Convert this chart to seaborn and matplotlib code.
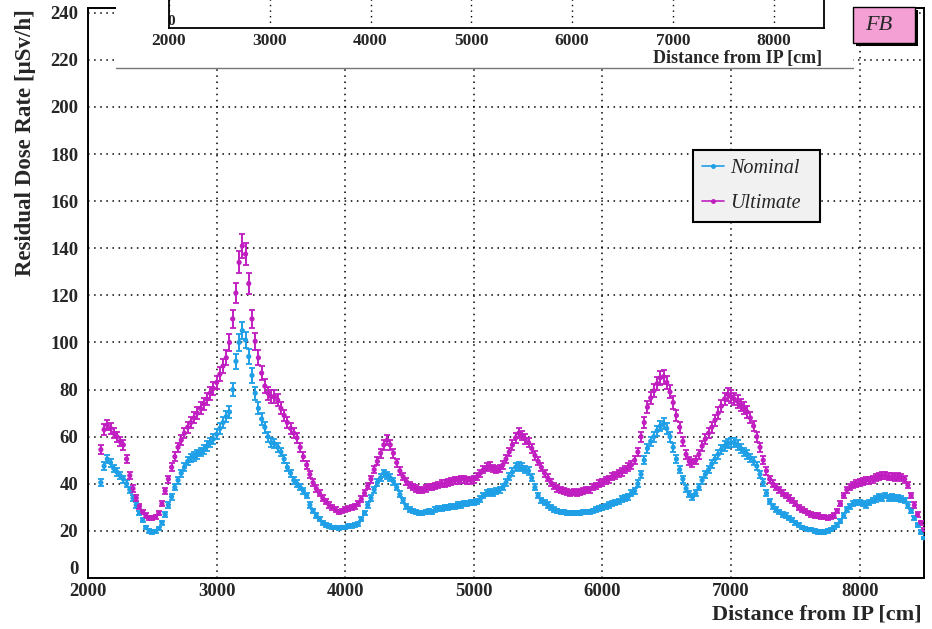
import numpy as np
import pandas as pd
import seaborn as sns
import matplotlib.pyplot as plt
from matplotlib.lines import Line2D
from matplotlib.patches import Rectangle
from matplotlib.ticker import MultipleLocator

# --- data, 25 cm bins from 2100 to 8500 cm ---
x_start, x_stop, x_step = 2100, 8500, 25

nominal = [
    40.5, 47.5, 50.5, 49.0, 46.5, 45.0, 43.5, 42.0, 40.0, 37.5, 34.0, 31.0,
    27.5, 24.5, 21.5, 20.0, 19.5, 19.8, 21.0, 23.5, 27.0, 31.0, 34.5, 38.5,
    41.5, 44.5, 47.0, 49.5, 51.0, 51.5, 52.5, 53.5, 54.5, 56.0, 57.5, 59.0,
    61.0, 63.5, 66.0, 68.5, 70.5, 80.0, 92.0, 100.0, 105.0, 101.0, 94.0, 86.0,
    78.5, 72.0, 67.5, 64.0, 60.0, 57.5, 57.0, 55.5, 53.5, 50.5, 47.0, 44.5,
    41.5, 40.0, 38.5, 37.0, 35.0, 31.0, 28.5, 26.5, 25.0, 23.5, 22.5, 22.0,
    21.5, 21.5, 21.0, 21.5, 21.5, 22.0, 22.0, 22.5, 23.0, 25.0, 27.5, 31.0,
    34.0, 37.5, 40.5, 42.5, 44.5, 43.5, 42.5, 41.0, 38.5, 35.5, 33.0, 30.5,
    29.0, 28.5, 28.0, 27.5, 27.5, 28.0, 28.5, 28.0, 29.0, 29.5, 29.5, 30.0,
    30.0, 30.5, 30.5, 31.0, 31.0, 31.5, 31.5, 32.0, 32.0, 32.5, 33.5, 35.0,
    36.0, 36.5, 36.0, 37.0, 37.5, 38.5, 40.5, 43.0, 45.0, 47.0, 47.5, 47.0,
    46.0, 45.5, 42.5, 38.5, 35.0, 33.0, 32.0, 31.0, 30.0, 29.0, 28.5, 28.0,
    28.0, 27.5, 27.5, 27.5, 27.5, 27.5, 28.0, 28.0, 28.0, 28.5, 29.0, 29.5,
    30.0, 30.5, 31.0, 31.5, 32.0, 32.5, 33.5, 34.0, 34.5, 36.0, 37.0, 40.0,
    44.0, 50.0, 55.0, 58.0, 60.0, 62.5, 64.5, 65.5, 63.5, 60.0, 55.5, 50.5,
    46.0, 42.0, 38.0, 35.5, 34.5, 36.0, 38.5, 41.5, 44.0, 46.0, 48.5, 50.5,
    52.5, 54.5, 56.0, 57.0, 57.5, 57.5, 56.5, 55.0, 53.5, 52.5, 51.0, 49.5,
    47.5, 44.0, 40.5, 36.0, 32.5, 30.5, 29.0, 28.0, 27.0, 26.5, 25.5, 24.5,
    23.5, 22.5, 21.5, 21.0, 20.5, 20.5, 20.0, 19.5, 19.5, 19.5, 20.0, 20.5,
    21.5, 22.5, 24.0, 26.5, 29.0, 30.5, 31.5, 32.0, 32.0, 31.5, 31.0, 32.0,
    33.0, 33.5, 34.5, 34.0, 35.0, 34.0, 34.5, 34.0, 34.0, 33.5, 33.0, 31.0,
    28.5, 25.5, 22.5, 19.5, 17.0,
]

ultimate = [
    54.5, 63.0, 65.0, 63.5, 61.5, 60.0, 58.0, 56.5, 50.5, 43.5, 38.0, 34.0,
    30.5, 28.0, 26.5, 25.5, 25.5, 26.0, 27.5, 31.5, 37.0, 42.0, 47.0, 51.5,
    55.5, 58.5, 61.5, 64.0, 66.0, 68.0, 70.0, 72.0, 74.0, 76.0, 78.5, 80.5,
    83.0, 86.5, 90.0, 93.5, 100.0, 110.0, 121.0, 134.0, 141.0, 137.5, 125.0, 110.0,
    100.5, 93.5, 87.0, 81.5, 78.5, 77.0, 77.0, 75.5, 72.0, 69.0, 66.0, 63.5,
    61.5, 59.5, 55.5, 51.5, 48.0, 44.0, 40.5, 38.0, 36.0, 34.0, 32.5, 31.0,
    30.0, 29.0, 28.0, 28.5, 29.0, 29.5, 30.0, 30.5, 31.5, 33.5, 36.0, 39.0,
    42.0, 46.0, 49.5, 53.0, 56.5, 58.5, 56.5, 53.0, 49.0, 45.5, 43.0, 41.0,
    39.5, 38.5, 38.0, 37.5, 37.5, 38.0, 38.5, 38.5, 39.0, 39.5, 40.0, 40.0,
    40.5, 41.0, 41.5, 41.5, 42.0, 42.0, 41.5, 41.5, 42.0, 43.0, 44.5, 46.0,
    47.0, 47.5, 46.5, 46.0, 46.5, 48.0, 50.5, 53.5, 56.5, 59.5, 61.5, 60.5,
    59.0, 57.5, 55.0, 52.0, 49.5, 47.0, 44.5, 42.5, 40.5, 39.0, 38.0, 37.5,
    37.0, 36.5, 36.0, 36.5, 36.0, 36.5, 37.0, 37.5, 37.5, 38.5, 39.0, 40.0,
    40.5, 41.5, 42.0, 43.0, 43.5, 44.5, 45.0, 46.0, 47.0, 48.0, 50.0, 53.5,
    60.0, 66.0, 72.5, 76.5, 79.5, 82.5, 85.0, 85.5, 83.0, 79.0, 74.5, 69.0,
    64.0, 58.0, 52.5, 49.5, 49.0, 50.0, 52.5, 56.0, 59.0, 61.5, 64.0, 67.0,
    70.0, 73.0, 76.0, 78.0, 77.0, 76.0, 75.0, 73.5, 72.0, 70.5, 68.0, 64.5,
    60.0, 55.5, 50.0, 45.5, 42.0, 40.0, 38.5, 37.5, 36.0, 35.0, 34.0, 33.0,
    31.5, 30.0, 29.0, 28.5, 27.5, 27.0, 26.5, 26.5, 26.0, 26.0, 25.5, 26.0,
    26.5, 28.5, 31.5, 35.0, 37.5, 38.5, 39.5, 40.0, 40.5, 41.0, 41.5, 41.5,
    42.0, 42.5, 43.0, 43.5, 43.5, 43.0, 43.0, 42.5, 43.0, 42.5, 42.0, 39.5,
    35.0, 31.0, 27.0, 23.5, 20.5,
]

# relative statistical error of each bin
nominal_rel_err = 0.035
ultimate_rel_err = 0.035

series_names = ["Nominal", "Ultimate"]
series_colors = ["#1e9fe6", "#c01ec0"]

# --- style ---
sns.set_theme(style="white")
plt.rcParams["font.family"] = ["Liberation Serif", "DejaVu Serif"]

distance = np.arange(x_start, x_stop + 1, x_step)
df = pd.DataFrame({
    "distance": np.concatenate([distance, distance]),
    "rate": nominal + ultimate,
    "series": [series_names[0]] * len(nominal) + [series_names[1]] * len(ultimate),
})
palette = dict(zip(series_names, series_colors))

W, H = 932, 629
fig = plt.figure(figsize=(W / 100, H / 100), dpi=100)
ax = fig.add_axes([88 / W, 51 / H, 836 / W, 570 / H])

# error bars then markers
errs = {"Nominal": nominal_rel_err, "Ultimate": ultimate_rel_err}
for name in series_names:
    sub = df[df["series"] == name]
    ax.errorbar(sub["distance"], sub["rate"], yerr=sub["rate"] * errs[name],
                fmt="none", ecolor=palette[name], elinewidth=1.4,
                capsize=2.2, capthick=1.3, zorder=3)
sns.scatterplot(data=df, x="distance", y="rate", hue="series", palette=palette,
                s=14, linewidth=0, legend=False, ax=ax, zorder=4)

ax.set_xlim(2000, 8500)
ax.set_ylim(0, 242)
ax.set_xticks(np.arange(2000, 8001, 1000))
ax.set_yticks(np.arange(0, 241, 20))
ax.xaxis.set_minor_locator(MultipleLocator(200))
ax.yaxis.set_minor_locator(MultipleLocator(4))
ax.tick_params(axis="x", which="major", direction="in", length=12, width=1.3,
               pad=3.5, labelsize=13.5)
ax.tick_params(axis="x", which="minor", direction="in", length=6, width=1.1)
ax.tick_params(axis="y", which="major", direction="in", length=18, width=1.3,
               pad=7, labelsize=13.5)
ax.tick_params(axis="y", which="minor", direction="in", length=9, width=1.1)
for lab in ax.get_xticklabels() + ax.get_yticklabels():
    lab.set_fontweight("bold")
# ROOT-style: the "0" sits just above the corner
ax.get_yticklabels()[0].set_verticalalignment("bottom")
ax.grid(True, which="major", color="black", linestyle=(0, (1, 3)), linewidth=1.1)
for sp in ax.spines.values():
    sp.set_color("black")
    sp.set_linewidth(1.4)
ax.set_xlabel("")
ax.set_ylabel("")

fig.text(922 / W, 1 - 615 / H, "Distance from IP [cm]", ha="right", va="center",
         fontsize=16, fontweight="bold")
fig.text(26 / W, 1 - 9 / H, "Residual Dose Rate [\u03bcSv/h]", ha="center", va="top",
         rotation=90, fontsize=16.5, fontweight="bold")

handles = [Line2D([], [], color=c, marker="o", markersize=2.5, linewidth=1.2)
           for c in series_colors]
leg = ax.legend(handles, series_names, loc="upper left",
                bbox_to_anchor=(693 / W, 1 - 221 / H, 127 / W, 71 / H),
                bbox_transform=fig.transFigure, mode="expand",
                prop={"style": "italic", "size": 14.5}, frameon=True, fancybox=False,
                handlelength=1.1, handletextpad=0.3, labelspacing=0.8,
                borderpad=0.45, borderaxespad=0)
leg.get_frame().set_facecolor("#f1f1f1")
leg.get_frame().set_edgecolor("black")
leg.get_frame().set_linewidth(1.5)
leg.get_frame().set_alpha(1)

# --- overlapping pad of the neighbouring plot at the top ---
fig.patches.append(Rectangle((116 / W, 1 - 68 / H), (853 - 116) / W, 68 / H,
                             transform=fig.transFigure, facecolor="white",
                             edgecolor="none", zorder=2))
fig.lines.append(Line2D([116 / W, 853 / W], [1 - 68 / H, 1 - 68 / H],
                        transform=fig.transFigure, color="#777777", linewidth=1.0,
                        zorder=2.5))

ax_in = fig.add_axes([169 / W, 1 - 28 / H, (824 - 169) / W, 0.2])
ax_in.set_zorder(5)
ax_in.set_facecolor("white")
ax_in.set_xlim(2000, 8500)
ax_in.set_ylim(0, 50)
ax_in.xaxis.set_major_locator(MultipleLocator(1000))
ax_in.xaxis.set_minor_locator(MultipleLocator(200))
ax_in.set_yticks([0])
ax_in.set_yticklabels(["0"])
ax_in.yaxis.set_minor_locator(MultipleLocator(6))
ax_in.tick_params(axis="x", which="major", direction="in", length=8, width=1.2,
                  pad=3.5, labelsize=12.5)
ax_in.tick_params(axis="x", which="minor", direction="in", length=4, width=1.0)
ax_in.tick_params(axis="y", which="major", direction="in", length=8, width=1.2,
                  pad=-4, labelsize=11)
ax_in.tick_params(axis="y", which="minor", direction="in", length=8, width=1.0)
for lab in ax_in.get_xticklabels() + ax_in.get_yticklabels():
    lab.set_fontweight("bold")
for lab in ax_in.get_yticklabels():
    lab.set_verticalalignment("bottom")
ax_in.grid(True, axis="x", which="major", color="black", linestyle=(0, (1, 3)),
           linewidth=1.0)
for sp in ax_in.spines.values():
    sp.set_color("black")
    sp.set_linewidth(1.3)
fig.text(822 / W, 1 - 59 / H, "Distance from IP [cm]", ha="right", va="center",
         fontsize=13, fontweight="bold", zorder=6)

# "FB" label box with shadow
fig.patches.append(Rectangle((856 / W, 1 - 46 / H), 62 / W, 36 / H,
                             transform=fig.transFigure, facecolor="black",
                             edgecolor="none", zorder=6))
fig.patches.append(Rectangle((853 / W, 1 - 43 / H), 62 / W, 36 / H,
                             transform=fig.transFigure, facecolor="#f4a0d4",
                             edgecolor="black", linewidth=1.0, zorder=7))
fig.text(865 / W, 1 - 26 / H, "FB", ha="left", va="center", fontsize=16,
         fontstyle="italic", zorder=8)

fig.savefig("out.png", dpi=100)
